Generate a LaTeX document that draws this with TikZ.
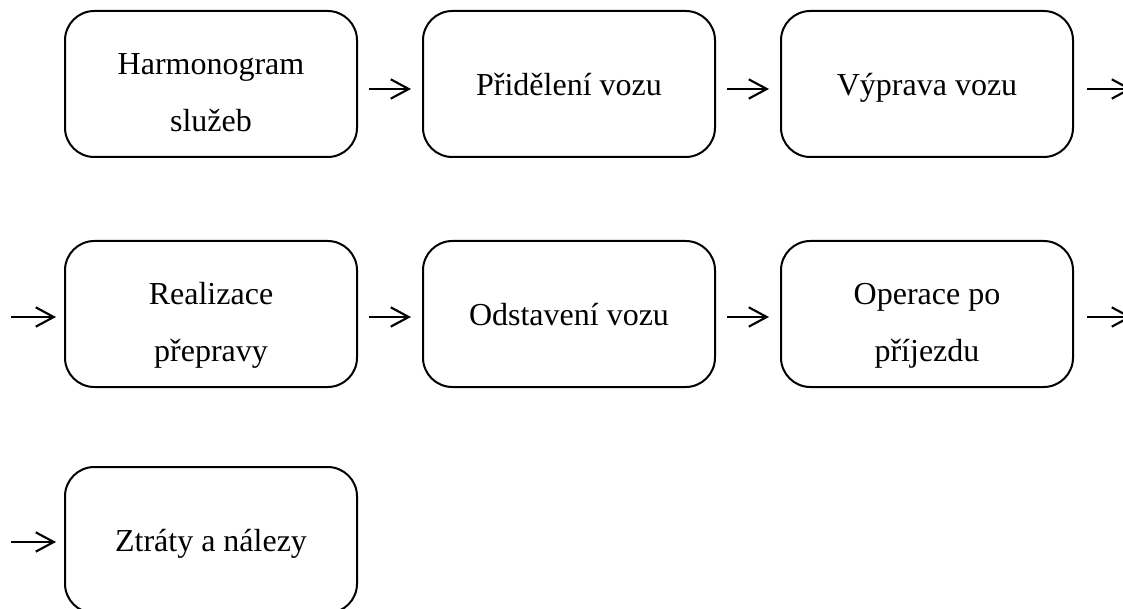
\documentclass[tikz,border=0pt]{standalone}
\usepackage{fontspec}
\setmainfont{Liberation Serif}
\usetikzlibrary{arrows.meta}

\begin{document}
\begin{tikzpicture}[x=0.75pt, y=-0.75pt,
  stage/.style={draw, line width=1.5pt, rounded corners=22pt,
    minimum width=219pt, minimum height=109.5pt, inner sep=0pt},
  lbl/.style={inner sep=0pt,
    font=\fontsize{24}{42.75}\selectfont},
  conn/.style={line width=1.6pt,
    -{Straight Barb[length=13.5pt,width=14.5pt,line width=1.6pt]}}]
\useasboundingbox (0,0) rectangle (1123,609);

% process stages
\node[stage] (b1) at (211,84) {};
\node[stage] (b2) at (569,84) {};
\node[stage] (b3) at (927,84) {};
\node[stage] (b4) at (211,314) {};
\node[stage] (b5) at (569,314) {};
\node[stage] (b6) at (927,314) {};
\node[stage] (b7) at (211,540) {};

% stage titles
\newcommand{\stagetext}[1]{\begin{tabular}{@{}c@{}}#1\end{tabular}}
\node[lbl] (t1) at ([yshift=-6pt]b1.center) {\stagetext{Harmonogram\\služeb}};
\node[lbl] (t2) at (b2.center) {\stagetext{Přidělení vozu}};
\node[lbl] (t3) at (b3.center) {\stagetext{Výprava vozu}};
\node[lbl] (t4) at ([yshift=-6pt]b4.center) {\stagetext{Realizace\\přepravy}};
\node[lbl] (t5) at (b5.center) {\stagetext{Odstavení vozu}};
\node[lbl] (t6) at ([yshift=-6pt]b6.center) {\stagetext{Operace po\\příjezdu}};
\node[lbl] (t7) at (b7.center) {\stagetext{Ztráty a nálezy}};

% flow arrows
\draw[conn] ([shift={(11,5)}]b1.east) -- ([shift={(-11,5)}]b2.west);
\draw[conn] ([shift={(11,5)}]b2.east) -- ([shift={(-11,5)}]b3.west);
\draw[conn] ([shift={(13,5)}]b3.east) -- ([shift={(58,5)}]b3.east);
\draw[conn] ([shift={(-53,3)}]b4.west) -- ([shift={(-8,3)}]b4.west);
\draw[conn] ([shift={(11,3)}]b4.east) -- ([shift={(-11,3)}]b5.west);
\draw[conn] ([shift={(11,3)}]b5.east) -- ([shift={(-11,3)}]b6.west);
\draw[conn] ([shift={(13,3)}]b6.east) -- ([shift={(58,3)}]b6.east);
\draw[conn] ([shift={(-53,2)}]b7.west) -- ([shift={(-8,2)}]b7.west);
\end{tikzpicture}
\end{document}
